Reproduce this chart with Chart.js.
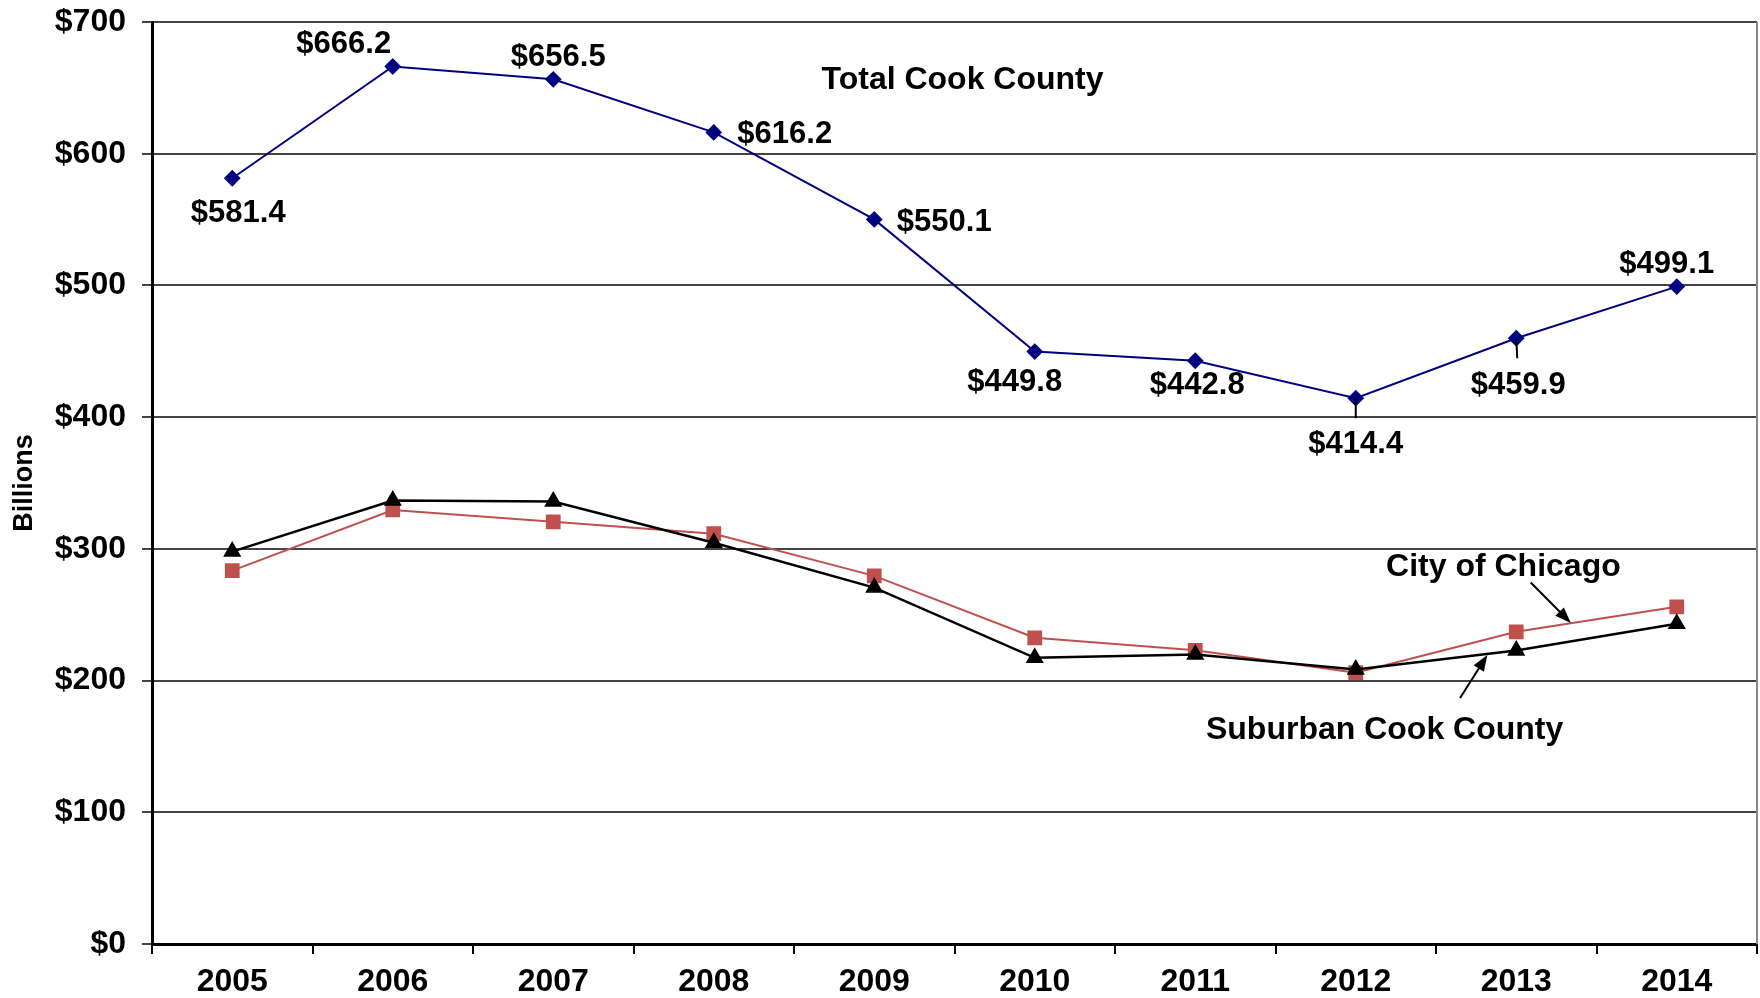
<!DOCTYPE html>
<html lang="en">
<head>
    <meta charset="UTF-8">
    <title>Cook County Equalized Assessed Value</title>
    <style>
        body {
            margin: 0;
            padding: 0;
            background: #FFFFFF;
        }
        .chart-wrap {
            width: 1760px;
            height: 998px;
        }
    </style>
    <script src="https://cdn.jsdelivr.net/npm/chart.js"></script>
</head>
<body>
    <div class="chart-wrap">
        <canvas id="eavChart" width="1760" height="998"></canvas>
    </div>

    <script>
        // Data (billions of dollars)
        const years = ['2005', '2006', '2007', '2008', '2009', '2010', '2011', '2012', '2013', '2014'];
        const totalCookCounty = [581.4, 666.2, 656.5, 616.2, 550.1, 449.8, 442.8, 414.4, 459.9, 499.1];
        const cityOfChicago = [283.5, 329.5, 320.5, 311.5, 279.5, 232.5, 223.0, 206.0, 237.0, 256.0];
        const suburbanCookCounty = [297.9, 336.7, 336.0, 304.7, 270.6, 217.3, 219.8, 208.4, 222.9, 243.1];
        const yTicks = [0, 100, 200, 300, 400, 500, 600, 700];

        const FONT = "'Liberation Sans', Arial, sans-serif";

        // where each total label sits relative to its point (px)
        const labelOffsets = [
            [6, 35], [-49, -22], [5, -22], [71, 2], [70, 3],
            [-20, 31], [2, 25], [0, 46], [2, 47], [-10, -22]
        ];
        // short leader lines under some points
        const leaders = { 7: [0, 20], 8: [1, 20] };

        // series name annotations, placed in data space (category index, value)
        const seriesNotes = [
            { text: 'Total Cook County', x: 4.55, y: 656 },
            { text: 'City of Chicago', x: 7.92, y: 286 },
            { text: 'Suburban Cook County', x: 7.18, y: 162.5 }
        ];
        const arrows = [
            { from: [8.09, 274.5], to: [8.34, 243.7] },
            { from: [7.65, 186.8], to: [7.82, 219.4] }
        ];

        const annotationPlugin = {
            id: 'annotations',
            afterDatasetsDraw(chart) {
                const ctx = chart.ctx;
                const xs = chart.scales.x;
                const ys = chart.scales.y;
                const meta = chart.getDatasetMeta(0);
                ctx.save();

                // right border of plot area
                ctx.strokeStyle = '#888';
                ctx.lineWidth = 2;
                ctx.beginPath();
                ctx.moveTo(chart.chartArea.right, chart.chartArea.top);
                ctx.lineTo(chart.chartArea.right, chart.chartArea.bottom);
                ctx.stroke();

                // leader lines
                ctx.strokeStyle = '#000';
                ctx.lineWidth = 2;
                Object.keys(leaders).forEach(i => {
                    const p = meta.data[i];
                    ctx.beginPath();
                    ctx.moveTo(p.x, p.y);
                    ctx.lineTo(p.x + leaders[i][0], p.y + leaders[i][1]);
                    ctx.stroke();
                });

                // value labels
                ctx.fillStyle = '#000';
                ctx.font = 'bold 31px ' + FONT;
                ctx.textAlign = 'center';
                ctx.textBaseline = 'middle';
                meta.data.forEach((p, i) => {
                    const [dx, dy] = labelOffsets[i];
                    ctx.fillText('$' + totalCookCounty[i].toFixed(1), p.x + dx, p.y + dy);
                });

                // series names
                ctx.font = 'bold 32px ' + FONT;
                seriesNotes.forEach(n => {
                    ctx.fillText(n.text, xs.getPixelForValue(n.x), ys.getPixelForValue(n.y));
                });

                // arrows
                arrows.forEach(a => {
                    const x1 = xs.getPixelForValue(a.from[0]);
                    const y1 = ys.getPixelForValue(a.from[1]);
                    const x2 = xs.getPixelForValue(a.to[0]);
                    const y2 = ys.getPixelForValue(a.to[1]);
                    const ang = Math.atan2(y2 - y1, x2 - x1);
                    ctx.lineWidth = 2;
                    ctx.beginPath();
                    ctx.moveTo(x1, y1);
                    ctx.lineTo(x2 - 8 * Math.cos(ang), y2 - 8 * Math.sin(ang));
                    ctx.stroke();
                    ctx.beginPath();
                    ctx.moveTo(x2, y2);
                    ctx.lineTo(x2 - 16 * Math.cos(ang) + 6 * Math.sin(ang), y2 - 16 * Math.sin(ang) - 6 * Math.cos(ang));
                    ctx.lineTo(x2 - 16 * Math.cos(ang) - 6 * Math.sin(ang), y2 - 16 * Math.sin(ang) + 6 * Math.cos(ang));
                    ctx.closePath();
                    ctx.fill();
                });

                ctx.restore();
            }
        };

        const ctx = document.getElementById('eavChart').getContext('2d');
        const chart = new Chart(ctx, {
            type: 'line',
            data: {
                labels: years,
                datasets: [{
                    label: 'Total Cook County',
                    data: totalCookCounty,
                    borderColor: '#000080',
                    backgroundColor: '#000080',
                    borderWidth: 2,
                    pointStyle: 'rectRot',
                    pointRadius: 7,
                    tension: 0
                }, {
                    label: 'Suburban Cook County',
                    data: suburbanCookCounty,
                    borderColor: '#000000',
                    backgroundColor: '#000000',
                    borderWidth: 2.5,
                    pointStyle: 'triangle',
                    pointRadius: 8,
                    tension: 0
                }, {
                    label: 'City of Chicago',
                    data: cityOfChicago,
                    borderColor: '#C0504D',
                    backgroundColor: '#C0504D',
                    borderWidth: 2,
                    pointStyle: 'rect',
                    pointRadius: 9,
                    tension: 0
                }]
            },
            options: {
                responsive: false,
                animation: false,
                layout: {
                    autoPadding: false,
                    padding: { top: 22, right: 3, left: 0, bottom: 0 }
                },
                plugins: {
                    legend: { display: false },
                    tooltip: { enabled: false }
                },
                scales: {
                    x: {
                        offset: true,
                        grid: {
                            offset: true,
                            drawOnChartArea: false,
                            color: '#000',
                            lineWidth: 2,
                            tickLength: 10
                        },
                        border: { color: '#000', width: 3 },
                        ticks: {
                            color: '#000',
                            font: { family: FONT, size: 32, weight: 'bold' },
                            padding: 9,
                            maxRotation: 0
                        },
                        afterFit(scale) {
                            scale.height = 54;
                            scale.paddingLeft = 0;
                            scale.paddingRight = 0;
                        }
                    },
                    y: {
                        min: 0,
                        max: 700,
                        afterBuildTicks(scale) {
                            scale.ticks = yTicks.map(v => ({ value: v }));
                        },
                        grid: {
                            color: '#444',
                            lineWidth: 2,
                            tickLength: 10
                        },
                        border: { color: '#000', width: 3 },
                        ticks: {
                            color: '#000',
                            font: { family: FONT, size: 32, weight: 'bold' },
                            padding: 16,
                            callback: v => '$' + v
                        },
                        title: {
                            display: true,
                            text: 'Billions',
                            color: '#000',
                            font: { family: FONT, size: 27, weight: 'bold' },
                            padding: { top: 8, bottom: 0 }
                        },
                        afterFit(scale) {
                            scale.width = 152;
                            scale.paddingTop = 0;
                            scale.paddingBottom = 0;
                        }
                    }
                }
            },
            plugins: [annotationPlugin]
        });
    </script>
</body>
</html>
